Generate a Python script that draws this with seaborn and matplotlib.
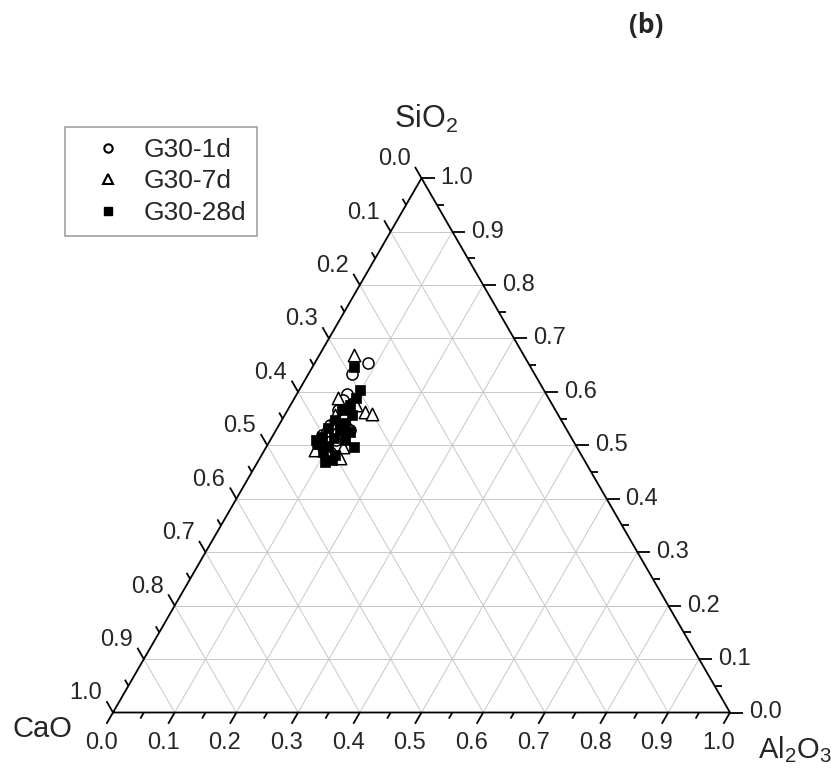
import numpy as np
import pandas as pd
import seaborn as sns
import matplotlib.pyplot as plt
from matplotlib.lines import Line2D

# Dados (frações: SiO2, Al2O3; CaO = 1 - SiO2 - Al2O3)
si_1d = [0.654, 0.634, 0.596, 0.585, 0.578, 0.566, 0.551, 0.538, 0.529, 0.519, 0.510, 0.499, 0.488, 0.517]
al_1d = [0.086, 0.070, 0.081, 0.080, 0.098, 0.082, 0.100, 0.083, 0.120, 0.079, 0.106, 0.083, 0.108, 0.116]

si_7d = [0.669, 0.562, 0.559, 0.491, 0.497, 0.476, 0.557, 0.529, 0.538, 0.506, 0.576, 0.589, 0.482]
al_7d = [0.056, 0.127, 0.140, 0.082, 0.124, 0.130, 0.081, 0.079, 0.112, 0.082, 0.106, 0.070, 0.107]

si_28d = [0.647, 0.604, 0.589, 0.576, 0.566, 0.557, 0.547, 0.542, 0.532, 0.529, 0.525,
          0.516, 0.514, 0.510, 0.503, 0.499, 0.497, 0.488, 0.482, 0.473, 0.469, 0.510]
al_28d = [0.067, 0.098, 0.100, 0.096, 0.088, 0.109, 0.086, 0.105, 0.082, 0.103, 0.121,
          0.081, 0.101, 0.121, 0.081, 0.099, 0.142, 0.096, 0.119, 0.118, 0.109, 0.074]

series_names = ['G30-1d', 'G30-7d', 'G30-28d']
tick_vals = np.round(np.arange(0, 1.01, 0.1), 1)
minor_vals = np.round(np.arange(0.05, 1.0, 0.1), 2)

sns.set_style('white')
plt.rcParams['font.family'] = ['Liberation Sans', 'DejaVu Sans']
plt.rcParams['mathtext.default'] = 'regular'

H = np.sqrt(3) / 2
PX = 1 / 617.0


def tern(si, al):
    si = np.asarray(si, dtype=float)
    al = np.asarray(al, dtype=float)
    return al + si / 2, si * H


fig = plt.figure(figsize=(8.31, 7.76), dpi=100)
ax = fig.add_axes([0, 0, 1, 1])
ax.set_xlim(-113 * PX, 718 * PX)
ax.set_ylim(-63.5 * PX, 712.5 * PX)
ax.axis('off')

# grade
gcol = '#c8c8c8'
for v in tick_vals[1:-1]:
    x, y = tern([v, v], [0, 1 - v])
    ax.plot(x, y, color=gcol, lw=0.7, zorder=1)
    x, y = tern([0, 1 - v], [v, v])
    ax.plot(x, y, color=gcol, lw=0.7, zorder=1)
    x, y = tern([0, 1 - v], [1 - v, 0])
    ax.plot(x, y, color=gcol, lw=0.7, zorder=1)

# borda do triângulo
x, y = tern([0, 0, 1, 0], [0, 1, 0, 0])
ax.plot(x, y, color='black', lw=1.3, zorder=2)

d_bot = np.array([-0.5, -H])
d_right = np.array([1.0, 0.0])
d_left = np.array([-0.5, H])


def tick(base, d, length):
    ax.plot([base[0], base[0] + d[0] * length * PX], [base[1], base[1] + d[1] * length * PX],
            color='black', lw=1.3, zorder=2, solid_capstyle='butt')


fs = 17
for v in tick_vals:
    # eixo inferior (Al2O3)
    b = np.array(tern(0, v))
    tick(b, d_bot, 13)
    p = b + d_bot * 23 * PX
    ax.text(p[0], p[1], f'{v:.1f}', ha='center', va='top', fontsize=fs)
    # eixo direito (SiO2)
    b = np.array(tern(v, 1 - v))
    tick(b, d_right, 13)
    ax.text(b[0] + 19 * PX, b[1], f'{v:.1f}', ha='left', va='center', fontsize=fs)
    # eixo esquerdo (CaO)
    b = np.array(tern(1 - v, 0))
    tick(b, d_left, 13)
    p = b + d_left * 22 * PX
    ax.text(p[0], p[1], f'{v:.1f}', ha='right', va='center', fontsize=fs)

for v in minor_vals:
    tick(np.array(tern(0, v)), d_bot, 7)
    tick(np.array(tern(v, 1 - v)), d_right, 7)
    tick(np.array(tern(1 - v, 0)), d_left, 7)

# rótulos dos vértices
ax.text(426 * PX - 113 * PX, (712.5 - 128) * PX, 'SiO$_2$', ha='center', va='baseline', fontsize=22)
ax.text(42 * PX - 113 * PX, (712.5 - 737) * PX, 'CaO', ha='center', va='baseline', fontsize=21)
ax.text(758 * PX - 113 * PX, (712.5 - 758) * PX, 'Al$_2$O$_3$', ha='left', va='baseline', fontsize=21)

# pontos
x, y = tern(si_1d, al_1d)
sns.scatterplot(x=x, y=y, marker='o', s=64, color='white', edgecolor='black', linewidth=1.1, ax=ax, zorder=3)
x, y = tern(si_7d, al_7d)
sns.scatterplot(x=x, y=y, marker='^', s=80, color='white', edgecolor='black', linewidth=1.1, ax=ax, zorder=3)
x, y = tern(si_28d, al_28d)
sns.scatterplot(x=x, y=y, marker='s', s=58, color='black', edgecolor='black', linewidth=0.5, ax=ax, zorder=3)

handles = [
    Line2D([], [], ls='none', marker='o', ms=6, mfc='white', mec='black', mew=1.5),
    Line2D([], [], ls='none', marker='^', ms=6.5, mfc='white', mec='black', mew=1.5),
    Line2D([], [], ls='none', marker='s', ms=6, mfc='black', mec='black'),
]
leg = fig.legend(handles, series_names, loc='upper left', bbox_to_anchor=(65 / 831, 1 - 127 / 776),
                 frameon=True, fancybox=False, edgecolor='#808080', fontsize=19,
                 borderpad=0.42, handlelength=2.45, handletextpad=0.1, labelspacing=0.28,
                 borderaxespad=0)
leg.get_frame().set_linewidth(1.1)

fig.text(646 / 831, 1 - 25 / 776, '(b)', ha='center', va='center', fontsize=19, fontweight='bold',
         family=['Open Sans', 'DejaVu Sans'])

plt.savefig('out.png', dpi=100)
